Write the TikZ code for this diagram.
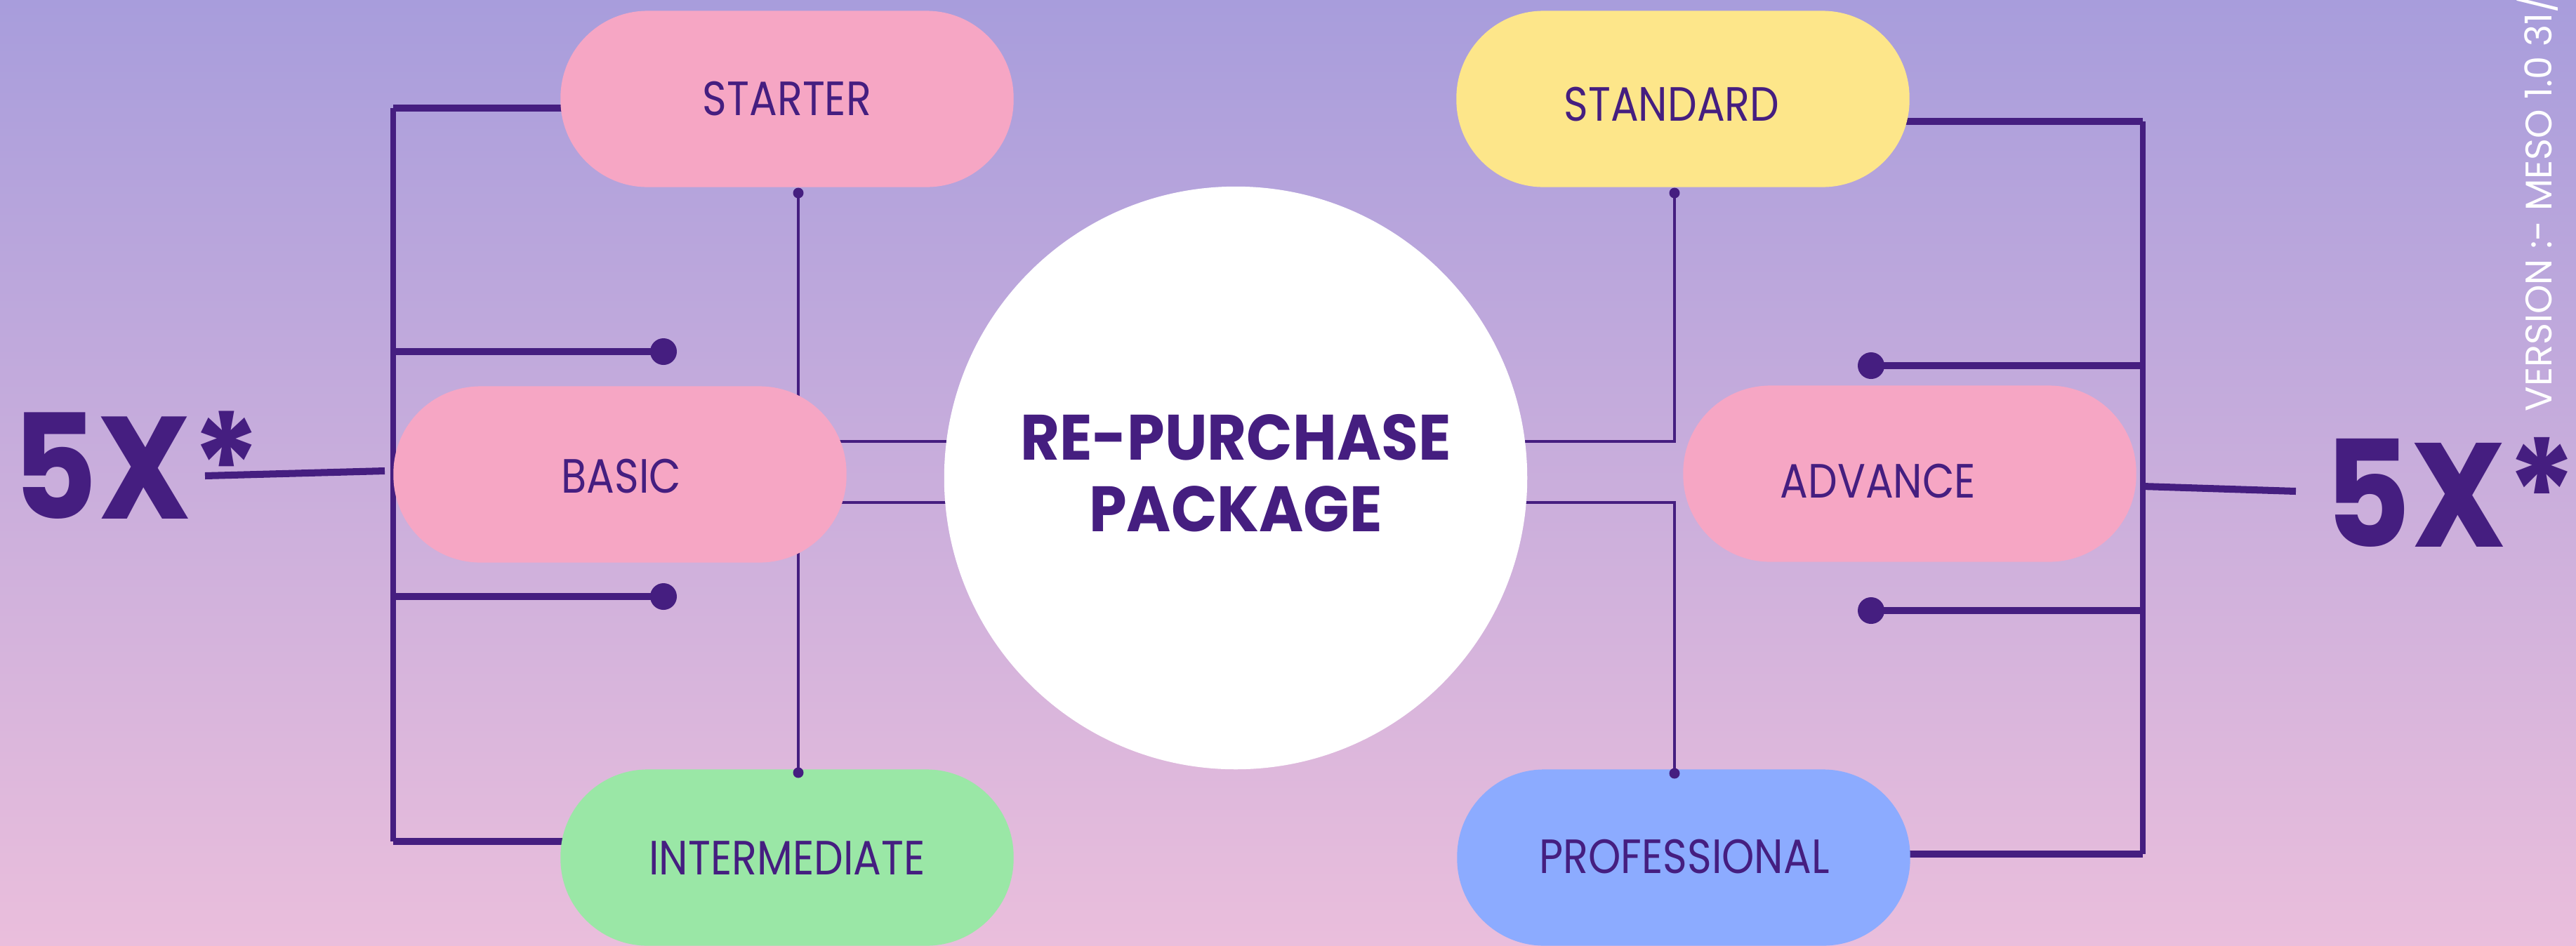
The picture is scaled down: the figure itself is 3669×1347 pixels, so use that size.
\documentclass[tikz,border=0pt]{standalone}
\usepackage{fontspec}
\setmainfont{Poppins}
\newfontfamily\lblfont[FakeStretch=0.86]{Poppins}
\newfontfamily\ttlfont[FakeStretch=0.94]{Poppins}
\newfontfamily\bigfont[FakeStretch=0.9]{Poppins}
\newfontfamily\verfont{Poppins}
\usetikzlibrary{calc}
\definecolor{dk}{RGB}{69,30,128}
\definecolor{bgtop}{RGB}{168,157,220}
\definecolor{bgmid}{RGB}{212,184,228}
\definecolor{bgbot}{RGB}{234,190,220}
\definecolor{pinkc}{RGB}{246,166,196}
\definecolor{yellowc}{RGB}{253,230,138}
\definecolor{greenc}{RGB}{154,231,166}
\definecolor{bluec}{RGB}{140,171,255}
\pgfdeclarelayer{bg}
\pgfdeclarelayer{lines}
\pgfsetlayers{bg,lines,main}
\tikzset{
  pill/.style={rectangle, rounded corners=1.24cm, inner sep=0pt, draw=none,
    minimum width=6.45cm, minimum height=2.51cm},
  lbl/.style={inner sep=0pt, text=dk, font=\lblfont\fontsize{19.5}{22}\selectfont},
  ttl/.style={inner sep=0pt, text=dk, align=center, font=\ttlfont\bfseries\fontsize{26}{29}\selectfont},
  bigx/.style={inner sep=0pt, text=dk, anchor=base west, font=\bigfont\bfseries\fontsize{59}{60}\selectfont},
  busline/.style={draw=dk, line width=2.3pt},
  stubline/.style={draw=dk, line width=2.85pt},
  thinline/.style={draw=dk, line width=1.1pt},
  bigdot/.style={circle, fill=dk, inner sep=0pt, minimum size=0.38cm},
  smalldot/.style={circle, fill=dk, inner sep=0pt, minimum size=0.15cm},
}
\begin{document}
\begin{tikzpicture}[x=0.01cm, y=-0.01cm]
\useasboundingbox (0,0) rectangle (3669,1347);
\begin{scope}
\clip (0,0) rectangle (3669,1347);
\begin{pgfonlayer}{bg}
\shade[top color=bgtop, middle color=bgmid, bottom color=bgbot] (0,0) rectangle (3669,1347);
\end{pgfonlayer}

% central hub
\node[circle, fill=white, minimum size=8.3cm, inner sep=0pt] (hub) at (1760,681) {};
\node[ttl] (title) at (1760,674) {RE-PURCHASE\\PACKAGE};

% boxes
\node[pill, fill=pinkc] (starter) at (1121,141) {};
\node[pill, fill=pinkc] (basic) at (883,676) {};
\node[pill, fill=greenc] (inter) at (1121,1222) {};
\node[pill, fill=yellowc] (standard) at (2397,141) {};
\node[pill, fill=pinkc] (advance) at (2720,675) {};
\node[pill, fill=bluec] (prof) at (2398,1222) {};

\node[lbl] (tstarter) at (1121,141) {STARTER};
\node[lbl] (tbasic) at (885,679) {BASIC};
\node[lbl] (tinter) at (1121,1223) {INTERMEDIATE};
\node[lbl] (tstandard) at (2381,149) {STANDARD};
\node[lbl] (tadvance) at (2675,685) {ADVANCE};
\node[lbl] (tprof) at (2399,1221) {PROFESSIONAL};

% 5X labels
\node[bigx] (l5x) at (17,739) {5X*};
\node[bigx, font=\bigfont\bfseries\fontsize{60}{62}\selectfont] (r5x) at (3310,779) {5X*};

% version text
\node[rotate=90, anchor=base west, inner sep=0pt, text=white,
  font=\verfont\fontsize{15}{17}\selectfont] (ver) at (3634,587) {VERSION :- MESO 1.0 31/};

% dots
\node[bigdot] (ld1) at (945,501) {};
\node[bigdot] (ld2) at (945,850) {};
\node[bigdot] (rd1) at (2665,521) {};
\node[bigdot] (rd2) at (2665,870) {};
\node[smalldot] (sd1) at (1137,275) {};
\node[smalldot] (sd2) at (1137,1101) {};
\node[smalldot] (sd3) at (2385,275) {};
\node[smalldot] (sd4) at (2385,1102) {};

% coordinates
\coordinate (lbT) at (560,154);
\coordinate (lbB) at (560,1199);
\coordinate (lb1) at (560,501);
\coordinate (lb2) at (560,850);
\coordinate (l5xa) at (292,678);
\coordinate (l5xb) at (548,671);
\coordinate (rbT) at (3052,173);
\coordinate (rbB) at (3052,1217);
\coordinate (rb1) at (3052,521);
\coordinate (rb2) at (3052,870);
\coordinate (r5xa) at (3052,693);
\coordinate (r5xb) at (3270,700);
\coordinate (lj1) at (1137,629);
\coordinate (lj2) at (1137,716);
\coordinate (rj1) at (2385,629);
\coordinate (rj2) at (2385,716);

\begin{pgfonlayer}{lines}
% left side
\draw[busline] (lbT) -- (lbB);
\draw[stubline] (lbT) -- (lbT -| starter.center);
\draw[stubline] (lbB) -- (lbB -| inter.center);
\draw[stubline] (lb1) -- (ld1.center);
\draw[stubline] (lb2) -- (ld2.center);
\draw[stubline] (l5xa) -- (l5xb);
\draw[thinline] (sd1.center) -- (sd2.center);
\draw[thinline] (lj1) -- (lj1 -| hub.center);
\draw[thinline] (lj2) -- (lj2 -| hub.center);
% right side
\draw[busline] (rbT) -- (rbB);
\draw[stubline] (rbT) -- (rbT -| standard.center);
\draw[stubline] (rbB) -- (rbB -| prof.center);
\draw[stubline] (rb1) -- (rd1.center);
\draw[stubline] (rb2) -- (rd2.center);
\draw[stubline] (r5xa) -- (r5xb);
\draw[thinline] (sd3.center) -- (rj1) -- (rj1 -| hub.center);
\draw[thinline] (rj2 -| hub.center) -- (rj2) -- (sd4.center);
\end{pgfonlayer}
\end{scope}
\end{tikzpicture}
\end{document}
